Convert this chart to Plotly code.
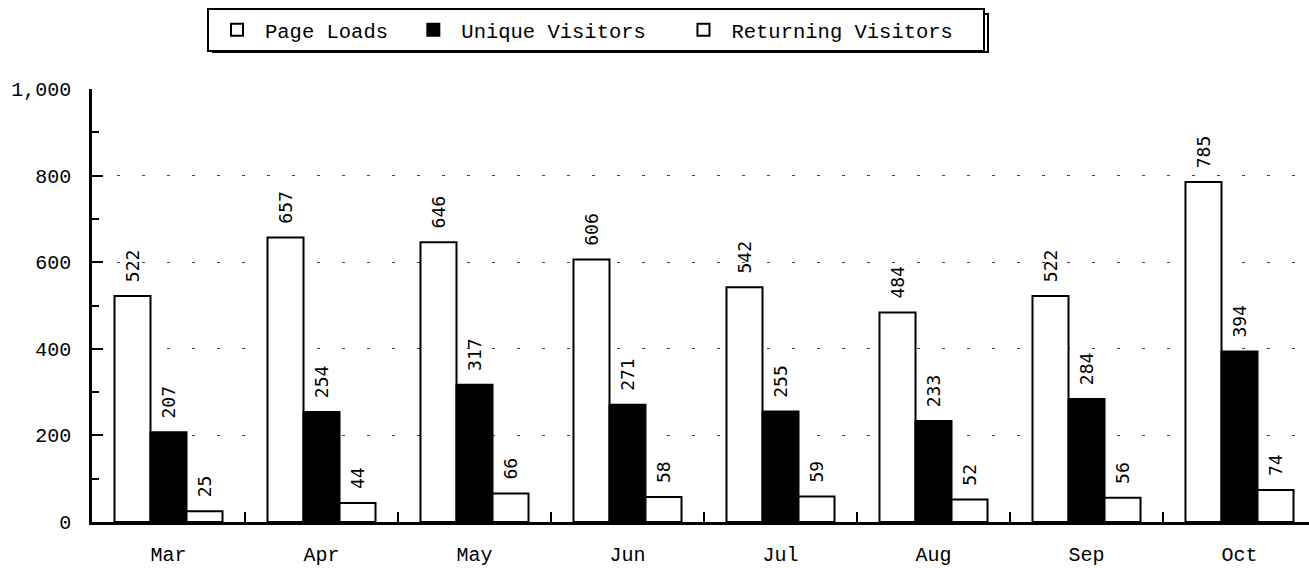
import plotly.graph_objects as go

months = ["Mar", "Apr", "May", "Jun", "Jul", "Aug", "Sep", "Oct"]
page_loads = [522, 657, 646, 606, 542, 484, 522, 785]
unique_visitors = [207, 254, 317, 271, 255, 233, 284, 394]
returning_visitors = [25, 44, 66, 58, 59, 52, 56, 74]
y_ticks = [0, 200, 400, 600, 800, 1000]

FONT = "Liberation Mono"
LABEL_FONT = "DejaVu Sans Mono"
NB = "\u00a0"

fig = go.Figure()
series = [
    ("Page Loads", page_loads, "white", NB),
    ("Unique Visitors", unique_visitors, "black", NB * 2),
    ("Returning Visitors", returning_visitors, "white", NB * 2),
]
for name, vals, color, pad in series:
    fig.add_trace(go.Bar(
        x=months, y=vals, name=name + pad,
        marker=dict(color=color, line=dict(color="black", width=2)),
        text=vals, texttemplate="\u2004%{y}", textposition="outside",
        textangle=-90, cliponaxis=False, constraintext="none",
        textfont=dict(family=LABEL_FONT, size=18, color="black"),
    ))

L, R, T, B = 92, 0, 89, 46
W, H = 1309, 568
plot_w = W - L - R
plot_h = H - T - B
cat_px = 153.0

def px_x(x):
    return (x - L) / plot_w

def px_y(y):
    return (H - B - y) / plot_h

# legend shadow box
fig.add_shape(type="rect", xref="paper", yref="paper",
              x0=px_x(213), x1=px_x(988), y0=px_y(52), y1=px_y(14),
              line=dict(color="black", width=2), fillcolor="white", layer="below")

fig.update_layout(
    width=W, height=H,
    margin=dict(l=L, r=R, t=T, b=B, autoexpand=False),
    paper_bgcolor="white", plot_bgcolor="white",
    font=dict(family=FONT, size=20, color="black"),
    barmode="group", bargap=0.294, bargroupgap=0,
    showlegend=True,
    legend=dict(
        orientation="h", x=px_x(207), xanchor="left",
        y=px_y(8), yanchor="top", itemwidth=46,
        bgcolor="white", bordercolor="black", borderwidth=2,
        font=dict(family=FONT, size=20.5, color="black"),
    ),
    xaxis=dict(
        type="category", range=[-0.5, -0.5 + plot_w / cat_px],
        showline=True, linecolor="black", linewidth=2.5,
        ticks="inside", ticklen=10, tickcolor="black", tickwidth=2,
        tickson="boundaries", showgrid=False,
        ticklabelstandoff=12,
        tickfont=dict(family=FONT, size=20),
    ),
    yaxis=dict(
        range=[0, 1000], tickvals=y_ticks, tickformat=",",
        showline=True, linecolor="black", linewidth=2.5,
        ticks="inside", ticklen=11, tickcolor="black", tickwidth=2,
        minor=dict(ticks="inside", ticklen=7, tickcolor="black", tickwidth=2,
                   dtick=100, showgrid=False),
        showgrid=True, gridcolor="#444", gridwidth=1, griddash="3px,22px",
        zeroline=False, ticklabelstandoff=14,
        tickfont=dict(family=FONT, size=20),
    ),
)

fig.write_html("out.html", config={"displayModeBar": False},
               post_script="document.body.style.margin='0';")
